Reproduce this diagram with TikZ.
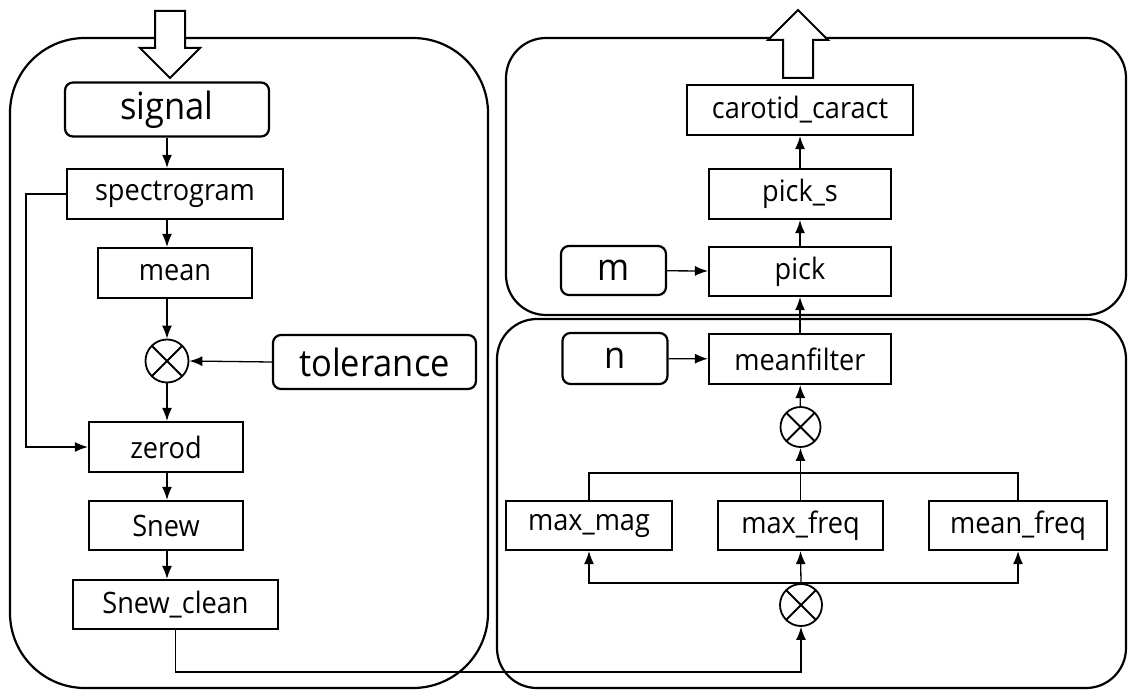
\documentclass[tikz,border=0pt]{standalone}
\usepackage{fontspec}
\setmainfont[FakeStretch=0.92]{Open Sans}
\usetikzlibrary{arrows.meta,positioning}

\begin{document}
\begin{tikzpicture}[
    x=1pt, y=-1pt,
    font=\fontsize{29.5}{32}\selectfont,
    block/.style={rectangle, draw, line width=2.2pt, inner sep=0pt, minimum height=50},
    param/.style={rectangle, draw, line width=2.2pt, rounded corners=8, inner sep=0pt, minimum height=54, font=\fontsize{37.5}{40}\selectfont},
    mult/.style={circle, draw, line width=1.8pt, inner sep=0pt, minimum size=42,
        path picture={\draw[line width=1.8pt] (path picture bounding box.south west) -- (path picture bounding box.north east)
                          (path picture bounding box.north west) -- (path picture bounding box.south east);}},
    frame/.style={draw, line width=2.2pt},
    hollow/.style={draw, line width=2pt, fill=white, line join=miter},
    conn/.style={line width=1.3pt, -{Latex[length=13pt,width=10pt]}},
    link/.style={line width=1.3pt}
]
\useasboundingbox (0,0) rectangle (1129,690);

% Frames
\draw[frame, rounded corners=75] (10,38) rectangle (488,688);
\draw[frame, rounded corners=40] (506,38) rectangle (1126,315);
\draw[frame, rounded corners=40] (497,319) rectangle (1126,688);

% Input / output arrows
\draw[hollow] (155,11) -- (185,11) -- (185,48) -- (200,48) -- (170,78) -- (140,48) -- (155,48) -- cycle;
\draw[hollow] (783,78) -- (813,78) -- (813,40) -- (828,40) -- (798,10) -- (768,40) -- (783,40) -- cycle;

% Left part
\node[param, minimum width=204] (signal) at (167,109.5) {signal};
\node[block, minimum width=216] (spectro) at (175,194) {spectrogram};
\node[block, minimum width=154] (mean) at (175,273) {mean};
\node[mult, minimum size=43] (mul1) at (167,361) {};
\node[param, minimum width=203] (tol) at (374.5,362) {tolerance};
\node[block, minimum width=154] (zerod) at (166,447) {zerod};
\node[block, minimum width=154, minimum height=49] (snew) at (166,525.5) {Snew};
\node[block, minimum width=205, minimum height=49] (snewc) at (175.5,604.5) {Snew\_clean};

\draw[conn] (signal.south -| mul1) -- (spectro.north -| mul1);
\draw[conn] (spectro.south -| mul1) -- (mean.north -| mul1);
\draw[conn] (mean.south -| mul1) -- (mul1.north);
\draw[conn] (tol.west) -- (mul1.east);
\draw[conn] (mul1.south) -- (zerod.north -| mul1);
\draw[conn] (spectro.west) -- ++(-40,0) |- (zerod.west);
\draw[conn] (zerod.south -| mul1) -- (snew.north -| mul1);
\draw[conn] (snew.south -| mul1) -- (snewc.north -| mul1);

% Right part, top
\node[block, minimum width=226] (carotid) at (800,110) {carotid\_caract};
\node[block, minimum width=182] (picks) at (800,194) {pick\_s};
\node[block, minimum width=182, minimum height=49] (pick) at (800,271.5) {pick};
\node[param, minimum width=105, minimum height=49] (m) at (613.5,270.5) {m};

\draw[conn] (m) -- (pick);
\draw[conn] (pick) -- (picks);
\draw[conn] (picks) -- (carotid);

% Right part, bottom
\node[param, minimum width=105, minimum height=51] (n) at (615,358.5) {n};
\node[block, minimum width=182] (meanfilter) at (800,359) {meanfilter};
\node[mult, minimum size=40] (mul2) at (800.5,427) {};
\node[block, minimum width=166, minimum height=49] (maxmag) at (589,525.5) {max\_mag};
\node[block, minimum width=165, minimum height=49] (maxfreq) at (800.5,525.5) {max\_freq};
\node[block, minimum width=178, minimum height=49] (meanfreq) at (1018,525.5) {mean\_freq};
\node[mult] (mul3) at (801,605) {};

\draw[conn] (n) -- (meanfilter);
\draw[conn] (meanfilter.north) -- (pick.south);
\draw[conn] (mul2) -- (meanfilter);
\draw[conn] (maxfreq.north) -- (mul2.south);
\draw[link] (maxmag.north) -- ++(0,-27) -| (meanfreq.north);
\draw[conn] (mul3.north) -- (maxfreq.south);
\draw[conn] (mul3.north) -| (maxmag.south);
\draw[conn] (mul3.north) -| (meanfreq.south);
\draw[conn] (snewc.south) -- ++(0,42) -| (mul3.south);

\end{tikzpicture}
\end{document}
